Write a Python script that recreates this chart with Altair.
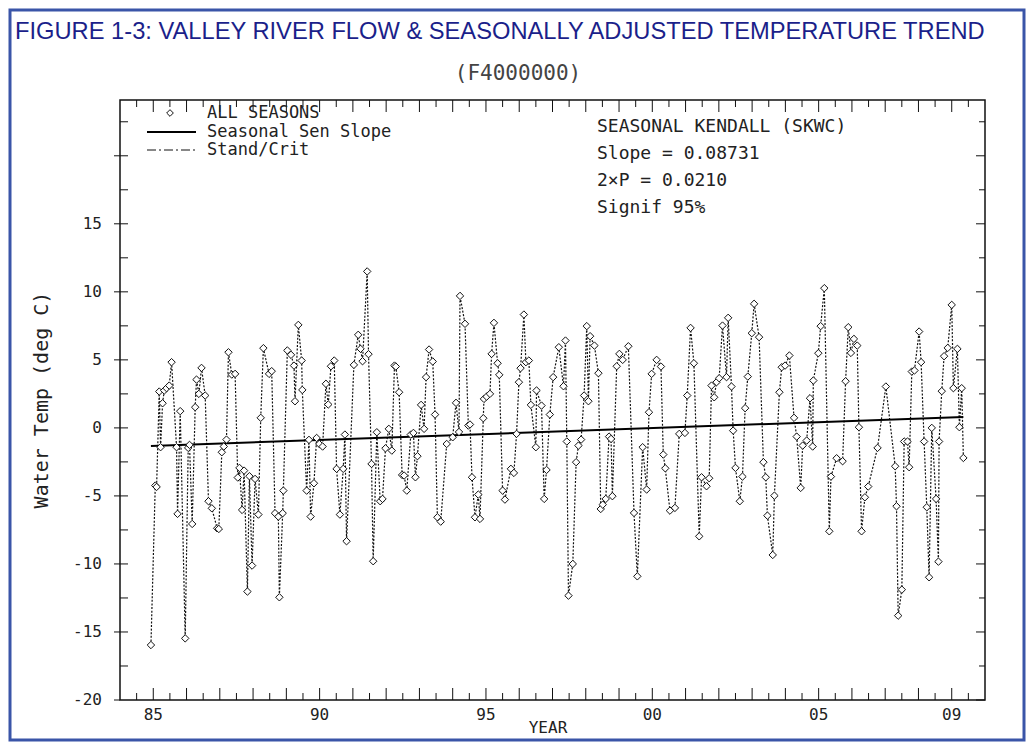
import altair as alt
import pandas as pd

# ---------------- data ----------------
years = [
    1984.93, 1985.06, 1985.10, 1985.18, 1985.22, 1985.28, 1985.33, 1985.40, 1985.48, 1985.55,
    1985.70, 1985.73, 1985.81, 1985.96, 1986.05, 1986.09, 1986.17, 1986.26, 1986.30, 1986.37,
    1986.45, 1986.56, 1986.66, 1986.76, 1986.92, 1986.97, 1987.06, 1987.12, 1987.20, 1987.26,
    1987.36, 1987.46, 1987.54, 1987.59, 1987.67, 1987.73, 1987.83, 1987.89, 1987.97, 1988.06,
    1988.16, 1988.23, 1988.31, 1988.48, 1988.56, 1988.66, 1988.76, 1988.79, 1988.89, 1988.91,
    1989.03, 1989.14, 1989.23, 1989.26, 1989.36, 1989.46, 1989.48, 1989.61, 1989.68, 1989.73,
    1989.83, 1989.91, 1989.99, 1990.09, 1990.19, 1990.26, 1990.34, 1990.44, 1990.51, 1990.61,
    1990.71, 1990.76, 1990.81, 1991.03, 1991.16, 1991.23, 1991.29, 1991.43, 1991.47, 1991.56,
    1991.61, 1991.72, 1991.82, 1991.89, 1991.98, 1992.08, 1992.17, 1992.25, 1992.29, 1992.39,
    1992.48, 1992.54, 1992.62, 1992.74, 1992.82, 1992.88, 1992.94, 1993.05, 1993.14, 1993.20,
    1993.29, 1993.40, 1993.47, 1993.54, 1993.64, 1993.82, 1994.00, 1994.10, 1994.19, 1994.22,
    1994.37, 1994.47, 1994.52, 1994.58, 1994.67, 1994.77, 1994.82, 1994.92, 1994.94, 1995.02,
    1995.12, 1995.17, 1995.24, 1995.35, 1995.40, 1995.50, 1995.57, 1995.75, 1995.84, 1995.92,
    1995.99, 1996.04, 1996.14, 1996.20, 1996.29, 1996.35, 1996.50, 1996.52, 1996.67, 1996.75,
    1996.82, 1996.92, 1997.02, 1997.19, 1997.33, 1997.39, 1997.43, 1997.48, 1997.61, 1997.71,
    1997.78, 1997.86, 1997.95, 1998.03, 1998.08, 1998.13, 1998.26, 1998.38, 1998.45, 1998.51,
    1998.60, 1998.70, 1998.76, 1998.80, 1998.93, 1999.01, 1999.11, 1999.28, 1999.45, 1999.55,
    1999.71, 1999.83, 1999.90, 1999.98, 2000.13, 2000.26, 2000.33, 2000.39, 2000.53, 2000.68,
    2000.81, 2000.98, 2001.05, 2001.15, 2001.25, 2001.41, 2001.48, 2001.63, 2001.71, 2001.78,
    2001.86, 2001.93, 2002.01, 2002.11, 2002.23, 2002.28, 2002.38, 2002.43, 2002.50, 2002.63,
    2002.71, 2002.79, 2002.87, 2002.99, 2003.06, 2003.21, 2003.34, 2003.41, 2003.46, 2003.62,
    2003.67, 2003.82, 2003.89, 2003.99, 2004.12, 2004.26, 2004.34, 2004.46, 2004.52, 2004.64,
    2004.74, 2004.82, 2004.84, 2004.99, 2005.06, 2005.17, 2005.32, 2005.37, 2005.54, 2005.72,
    2005.81, 2005.89, 2005.97, 2006.06, 2006.16, 2006.21, 2006.29, 2006.39, 2006.49, 2006.77,
    2007.02, 2007.30, 2007.34, 2007.39, 2007.50, 2007.57, 2007.67, 2007.72, 2007.80, 2007.88,
    2008.02, 2008.08, 2008.17, 2008.25, 2008.32, 2008.40, 2008.53, 2008.60, 2008.62, 2008.70,
    2008.77, 2008.88, 2009.00, 2009.05, 2009.17, 2009.23, 2009.30, 2009.35,
]
temps = [
    -15.96, -4.24, -4.34, 2.67, -1.42, 1.81, 2.75, 2.92, 3.11, 4.83,
    -1.42, -6.32, 1.23, -15.47, -1.47, -1.25, -7.06, 1.52, 3.55, 2.50,
    4.41, 2.38, -5.39, -5.91, -7.38, -7.43, -1.79, -1.37, -0.86, 5.56,
    3.92, 3.97, -3.65, -2.94, -6.03, -3.14, -12.03, -3.55, -10.12, -3.75,
    -6.37, 0.74, 5.86, 3.97, 4.17, -6.27, -6.52, -12.45, -6.27, -4.61,
    5.69, 5.37, 4.58, 1.96, 7.57, 4.95, 2.79, -4.61, -0.88, -6.52,
    -4.07, -0.74, -1.18, -1.37, 3.24, 1.72, 4.53, 4.95, -3.01, -6.37,
    -3.01, -0.49, -8.33, 4.63, 6.84, 5.81, 4.90, 11.50, 5.42, -2.65,
    -9.80, -0.32, -5.39, -5.22, -1.50, -0.07, -1.67, 4.58, 4.51, 2.62,
    -3.46, -3.50, -4.61, -0.49, -0.37, -3.63, -2.08, 1.69, -0.07, 3.73,
    5.76, 4.88, 0.98, -6.57, -6.89, -1.18, -0.69, 1.84, -0.30, 9.70,
    7.65, 0.17, 0.25, -3.63, -6.57, -4.90, -6.69, 0.71, 2.13, 2.30,
    2.50, 5.44, 7.72, 4.75, 3.90, -4.61, -5.27, -3.01, -3.31, -0.44,
    3.36, 4.39, 8.33, 4.83, 4.95, 1.69, -1.42, 2.75, 1.64, -5.22,
    -3.09, 0.98, 3.73, 5.93, 3.06, 6.42, -1.00, -12.33, -10.00, -2.52,
    -1.30, -0.86, 2.38, 7.48, 1.96, 6.74, 6.05, 4.02, -5.96, -5.64,
    -5.22, -0.64, -0.81, -5.02, 4.53, 5.44, 5.00, 6.00, -6.25, -10.91,
    -1.42, -4.53, 1.15, 3.97, 5.00, 4.51, -1.96, -2.97, -6.08, -5.88,
    -0.44, -0.37, 2.38, 7.35, 4.75, -7.97, -3.63, -4.29, -3.70, 3.11,
    2.25, 3.36, 3.65, 7.52, 3.73, 8.09, 3.04, -0.20, -2.94, -5.39,
    -3.58, 1.45, 3.77, 6.96, 9.12, 6.67, -2.52, -3.63, -6.45, -9.34,
    -4.98, 2.62, 4.46, 4.58, 5.32, 0.74, -0.64, -4.41, -1.30, -0.93,
    2.18, -1.37, 3.48, 5.49, 7.48, 10.27, -7.60, -3.58, -2.23, -2.45,
    3.43, 7.40, 5.51, 6.54, 6.05, 0.05, -7.60, -5.10, -4.31, -1.47,
    3.04, -2.82, -5.76, -13.80, -11.89, -1.00, -1.00, -2.89, 4.14, 4.22,
    7.08, 4.83, -1.00, -5.83, -10.98, 0.00, -5.22, -9.83, -1.00, 2.70,
    5.27, 5.88, 9.04, 2.92, 5.81, 0.05, 2.92, -2.21,
]

# Seasonal Sen slope line (end points)
trend_years = [1984.93, 2009.35]
trend_vals = [-1.33, 0.80]

# axes
x_label_years = [1985, 1990, 1995, 2000, 2005, 2009]
x_label_text = ["85", "90", "95", "00", "05", "09"]
y_label_vals = [-20, -15, -10, -5, 0, 5, 10, 15]
y_label_text = ["-20", "-15", "-10", "-5", "0", "5", "10", "15"]
x_major_ticks = list(range(1985, 2010))
x_minor_ticks = [y + 0.5 for y in range(1984, 2010)]
y_major_ticks = [-15, -10, -5, 0, 5, 10, 15, 20]
y_minor_ticks = [-17.5, -12.5, -7.5, -2.5, 2.5, 7.5, 12.5, 17.5, 22.5]

title_text = "FIGURE 1-3: VALLEY RIVER FLOW & SEASONALLY ADJUSTED TEMPERATURE TREND"
subtitle_text = "(F4000000)"
x_title = "YEAR"
y_title = "Water Temp (deg C)"
legend_items = ["ALL SEASONS", "Seasonal Sen Slope", "Stand/Crit"]
stats_lines = ["SEASONAL KENDALL (SKWC)", "Slope = 0.08731", "2\u00d7P = 0.0210", "Signif 95%"]

# ---------------- chart ----------------
W, H = 865, 600
MONO = "DejaVu Sans Mono"
TXT = "#222222"
INK = "#111111"

xs = alt.Scale(domain=[1984, 2010], nice=False, zero=False)
ys = alt.Scale(domain=[-20, 24.1], nice=False, zero=False)

series = pd.DataFrame({"year": years, "temp": temps})
one = alt.Data(values=[{"k": 1}])

X = lambda f: alt.X(f, scale=xs, axis=None)
Y = lambda f: alt.Y(f, scale=ys, axis=None)

line = alt.Chart(series).mark_line(color=INK, strokeWidth=1.2, strokeDash=[2, 1.6]).encode(
    x=X("year:Q"), y=Y("temp:Q")
)
points = alt.Chart(series).mark_point(
    shape="diamond", filled=True, fill="white", stroke=INK, strokeWidth=1, size=55, opacity=1
).encode(x=X("year:Q"), y=Y("temp:Q"))
trend = alt.Chart(pd.DataFrame({"year": trend_years, "temp": trend_vals})).mark_line(
    color="black", strokeWidth=2
).encode(x=X("year:Q"), y=Y("temp:Q"))


def xticks(vals, length, top):
    df = pd.DataFrame({"year": vals})
    ya, yb = (0, length) if top else (H, H - length)
    return alt.Chart(df).mark_rule(color=INK, strokeWidth=1).encode(
        x=X("year:Q"), y=alt.value(ya), y2=alt.value(yb)
    )


def yticks(vals, xa, xb):
    df = pd.DataFrame({"v": vals})
    return alt.Chart(df).mark_rule(color=INK, strokeWidth=1).encode(
        y=Y("v:Q"), x=alt.value(xa), x2=alt.value(xb)
    )


ticks = [
    xticks(x_major_ticks, 12, False), xticks(x_minor_ticks, 7, False),
    xticks(x_major_ticks, 12, True), xticks(x_minor_ticks, 7, True),
    yticks(y_major_ticks, -6, 8), yticks(y_minor_ticks, 0, 8),
    yticks([-20] + y_major_ticks, W - 9, W), yticks(y_minor_ticks, W - 6, W),
    yticks([-20], -6, 0),
]

# tick labels (positioned through the scales)
xlabels = alt.Chart(pd.DataFrame({"year": x_label_years, "t": x_label_text})).mark_text(
    font=MONO, fontSize=16, color=TXT, baseline="middle", align="center"
).encode(x=X("year:Q"), y=alt.value(H + 15), text="t:N")
ylabels = alt.Chart(pd.DataFrame({"v": y_label_vals, "t": y_label_text})).mark_text(
    font=MONO, fontSize=16, color=TXT, baseline="middle", align="right"
).encode(y=Y("v:Q"), x=alt.value(-18), text="t:N")


def label(text, x, y, size=17, font=MONO, color=TXT, align="left", angle=0):
    return alt.Chart(one).mark_text(
        text=text, align=align, baseline="middle", font=font, fontSize=size, color=color,
        angle=angle,
    ).encode(x=alt.value(x), y=alt.value(y))


# legend (inside plot, upper left)
leg_sym = alt.Chart(one).mark_point(
    shape="diamond", filled=True, fill="white", stroke=INK, strokeWidth=1, size=45, opacity=1
).encode(x=alt.value(50), y=alt.value(13))
leg_solid = alt.Chart(one).mark_rule(color="black", strokeWidth=2).encode(
    x=alt.value(27), x2=alt.value(76), y=alt.value(32)
)
leg_dash = alt.Chart(one).mark_rule(color=INK, strokeWidth=1, strokeDash=[9, 3, 2, 3]).encode(
    x=alt.value(27), x2=alt.value(76), y=alt.value(50)
)
legend_texts = [label(t, 87, 13 + i * 18.5, size=17) for i, t in enumerate(legend_items)]
stats_texts = [label(t, 477, 27 + i * 27, size=18) for i, t in enumerate(stats_lines)]

frame = alt.Chart(one).mark_rect(filled=False, color="#3a55a8", strokeWidth=3).encode(
    x=alt.value(-110), x2=alt.value(904), y=alt.value(-90), y2=alt.value(640)
)
title = label(title_text, -105, -68, size=23.7, font="Liberation Sans", color="#1b1f8a")
subtitle = label(subtitle_text, 398, -26, size=21, color="#444444", align="center")
xtitle = label(x_title, 428, 628, size=16, align="center")
ytitle = label(y_title, -78, 300, size=20, align="center", angle=270)

chart = alt.layer(
    line, trend, points, *ticks, xlabels, ylabels, leg_sym, leg_solid, leg_dash,
    *legend_texts, *stats_texts, frame, title, subtitle, xtitle, ytitle,
).properties(
    width=W, height=H,
    padding={"left": 112, "top": 92, "right": 42, "bottom": 42},
    autosize=alt.AutoSizeParams(type="none"),
    background="white",
).configure_view(stroke=INK, strokeWidth=1.5)

chart.save("out.html", embed_options={"renderer": "svg", "actions": False})
